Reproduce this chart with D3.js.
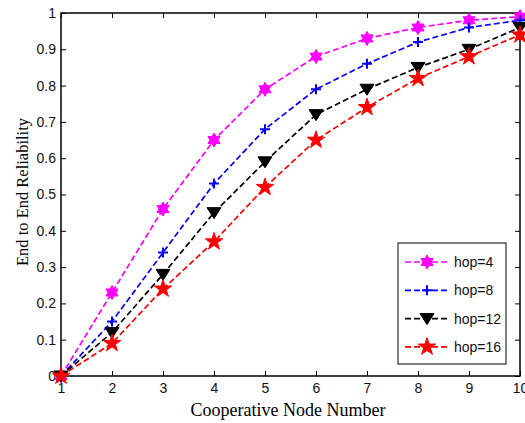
<!DOCTYPE html>
<html>
<head>
<meta charset="utf-8">
<script src="https://cdn.jsdelivr.net/npm/d3@7"></script>
<style>
  body { margin: 0; background: #fff; }
  svg { display: block; }
  .tick text { font-family: "Liberation Sans", Arial, sans-serif; font-size: 14px; fill: #111; }
</style>
</head>
<body>
<svg id="chart" width="525" height="423"></svg>
<script>
// node counts on x axis
const nodes = [1, 2, 3, 4, 5, 6, 7, 8, 9, 10];
const hop4  = [0, 0.23, 0.46, 0.65, 0.79, 0.88, 0.93, 0.96, 0.98, 0.99];
const hop8  = [0, 0.15, 0.34, 0.53, 0.68, 0.79, 0.86, 0.92, 0.96, 0.98];
const hop12 = [0, 0.12, 0.28, 0.45, 0.59, 0.72, 0.79, 0.85, 0.90, 0.96];
const hop16 = [0, 0.09, 0.24, 0.37, 0.52, 0.65, 0.74, 0.82, 0.88, 0.94];
const seriesNames = ["hop=4", "hop=8", "hop=12", "hop=16"];
const yTicks = [0, 0.1, 0.2, 0.3, 0.4, 0.5, 0.6, 0.7, 0.8, 0.9, 1];

const series = [
    {name: seriesNames[0], values: hop4,  color: "#ff00ff", marker: "hexagram"},
    {name: seriesNames[1], values: hop8,  color: "#0000ff", marker: "plus"},
    {name: seriesNames[2], values: hop12, color: "#000000", marker: "triangle"},
    {name: seriesNames[3], values: hop16, color: "#ff0000", marker: "star"}
];

const svg = d3.select("#chart");
const margin = {top: 13, right: 5, bottom: 47, left: 61};
const width = 525, height = 423;

const x = d3.scaleLinear().domain([1, 10]).range([margin.left, width - margin.right]);
const y = d3.scaleLinear().domain([0, 1]).range([height - margin.bottom, margin.top]);

// axes (ticks pointing inward like matlab)
svg.append("g")
    .attr("transform", `translate(0, ${y(0)})`)
    .call(d3.axisBottom(x).tickValues(nodes).tickFormat(d3.format("d")).tickSizeInner(-5).tickSizeOuter(0).tickPadding(7))
    .call(g => g.select(".domain").remove());

svg.append("g")
    .attr("transform", `translate(${x(1)}, 0)`)
    .call(d3.axisLeft(y).tickValues(yTicks).tickFormat(d => d === 0 ? "0" : d === 1 ? "1" : d3.format(".1f")(d)).tickSizeInner(-5).tickSizeOuter(0).tickPadding(5))
    .call(g => g.select(".domain").remove());

svg.append("g")
    .attr("transform", `translate(0, ${y(1)})`)
    .call(d3.axisTop(x).tickValues(nodes).tickFormat("").tickSizeInner(-5).tickSizeOuter(0))
    .call(g => g.select(".domain").remove());

svg.append("g")
    .attr("transform", `translate(${x(10)}, 0)`)
    .call(d3.axisRight(y).tickValues(yTicks).tickFormat("").tickSizeInner(-5).tickSizeOuter(0))
    .call(g => g.select(".domain").remove());

svg.selectAll(".tick line").attr("stroke", "#000").attr("stroke-width", 1);

// box
svg.append("rect")
    .attr("x", x(1)).attr("y", y(1))
    .attr("width", x(10) - x(1)).attr("height", y(0) - y(1))
    .attr("fill", "none").attr("stroke", "#000").attr("stroke-width", 1.5);

// marker shapes
const hexagram = (() => {
    const pts = [];
    for (let i = 0; i < 12; i++) {
        const r = i % 2 === 0 ? 7 : 4;
        const a = Math.PI / 6 * i - Math.PI / 2;
        pts.push([r * Math.cos(a), r * Math.sin(a)]);
    }
    return "M" + pts.join("L") + "Z";
})();
const markerPath = {
    hexagram: hexagram,
    plus: "M-5,0L5,0M0,-5L0,5",
    triangle: "M-7,-5L7,-5L0,6Z",
    star: d3.symbol().type(d3.symbolStar).size(95)()
};

function drawMarker(g, type, color) {
    const p = g.append("path").attr("d", markerPath[type]);
    if (type === "plus") {
        p.attr("fill", "none").attr("stroke", color).attr("stroke-width", 2);
    } else {
        p.attr("fill", color).attr("stroke", color).attr("stroke-width", 1);
    }
}

const line = d3.line()
    .x((d, i) => x(nodes[i]))
    .y(d => y(d));

series.forEach(s => {
    svg.append("path")
        .datum(s.values)
        .attr("d", line)
        .attr("fill", "none")
        .attr("stroke", s.color)
        .attr("stroke-width", 1.7)
        .attr("stroke-dasharray", "6,3");
});

series.forEach(s => {
    s.values.forEach((v, i) => {
        const g = svg.append("g").attr("transform", `translate(${x(nodes[i])}, ${y(v)})`);
        drawMarker(g, s.marker, s.color);
    });
});

// legend
const legend = svg.append("g").attr("transform", "translate(398, 243)");
legend.append("rect")
    .attr("width", 108).attr("height", 121)
    .attr("fill", "#fff").attr("stroke", "#000").attr("stroke-width", 1);

series.forEach((s, i) => {
    const row = legend.append("g").attr("transform", `translate(0, ${19 + i * 28.3})`);
    row.append("line")
        .attr("x1", 7).attr("x2", 50)
        .attr("stroke", s.color).attr("stroke-width", 1.7)
        .attr("stroke-dasharray", "6,3");
    drawMarker(row.append("g").attr("transform", "translate(29, 0)"), s.marker, s.color);
    row.append("text")
        .attr("x", 56).attr("y", 5)
        .attr("font-family", "Liberation Sans, Arial, sans-serif")
        .attr("font-size", "14px")
        .attr("fill", "#111")
        .text(s.name);
});

// axis labels
svg.append("text")
    .attr("text-anchor", "middle")
    .attr("x", 288)
    .attr("y", 416)
    .attr("font-family", "Liberation Serif, Times New Roman, serif")
    .attr("font-size", "18px")
    .text("Cooperative Node Number");

svg.append("text")
    .attr("text-anchor", "middle")
    .attr("transform", "rotate(-90)")
    .attr("x", -192)
    .attr("y", 28)
    .attr("font-family", "Liberation Serif, Times New Roman, serif")
    .attr("font-size", "16.5px")
    .text("End to End Reliability");
</script>
</body>
</html>
